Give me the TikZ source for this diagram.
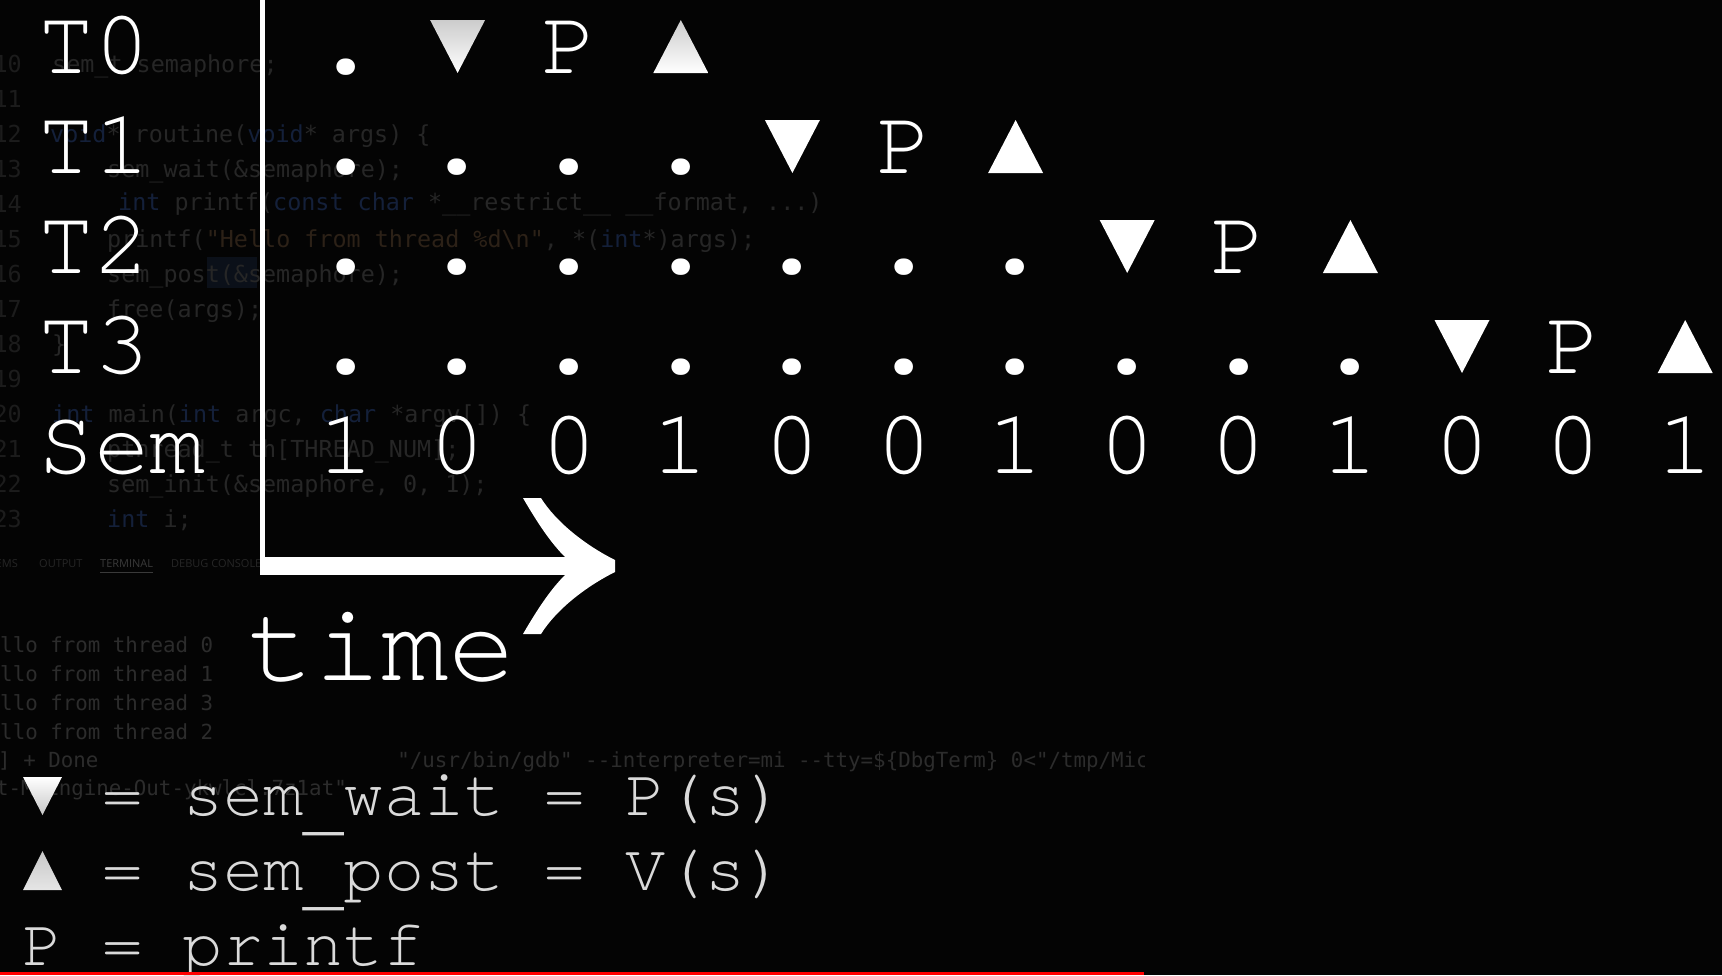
\documentclass[tikz,border=0pt]{standalone}
\usepackage{fontspec}
\newfontfamily\cur{texgyrecursor-regular.otf}
\newfontfamily\codefont{DejaVu Sans Mono}[Ligatures=TeXOff]
\newfontfamily\tabfont{Open Sans}
\definecolor{bg}{HTML}{040404}
\definecolor{leg}{HTML}{DADADA}
\definecolor{ytred}{HTML}{FF0000}
\definecolor{cgray}{HTML}{262626}
\definecolor{cnum}{HTML}{1C1C1C}
\definecolor{ckey}{HTML}{14203A}
\definecolor{cstr}{HTML}{2C2117}
\definecolor{cterm}{HTML}{2C2C2C}
\definecolor{ctab}{HTML}{3A3A3A}
\definecolor{csel}{HTML}{0B1019}
\tikzset{
  cell/.style={font=\cur\fontsize{93}{100}\selectfont, text=white, inner sep=0pt, anchor=base},
  rowlabel/.style={cell, anchor=base west},
  timelabel/.style={font=\cur\fontsize{112}{120}\selectfont, text=white, inner sep=0pt, anchor=base west},
  legtext/.style={font=\cur\fontsize{67}{72}\selectfont, text=leg, inner sep=0pt, anchor=base west},
  axisline/.style={white, line width=5pt},
  shaft/.style={white, line width=18pt},
  codeline/.style={font=\codefont\fontsize{23.4}{26}\selectfont, text=cgray, inner sep=0pt, anchor=base west},
  linenum/.style={font=\codefont\fontsize{23.4}{26}\selectfont, text=cnum, inner sep=0pt, anchor=base east},
  termline/.style={font=\codefont\fontsize{20.8}{24}\selectfont, text=cterm, inner sep=0pt, anchor=base west},
  tablabel/.style={font=\tabfont\fontsize{11}{13}\selectfont, text=cgray, inner sep=0pt, anchor=base west},
}
\newcommand\kw[1]{\textcolor{ckey}{#1}}
\newcommand\st[1]{\textcolor{cstr}{#1}}
\newcommand\usc{\raisebox{-12pt}{\_}}
\begin{document}
\begin{tikzpicture}[x=1pt,y=-1pt]
\fill[bg] (0,0) rectangle (1722,975);
\useasboundingbox (0,0) rectangle (1722,975);

% ---- faint editor background ----
\fill[csel] (207,257) rectangle (257,288);
\foreach \n in {10,...,23}{
  \node[linenum] (ln\n) at (22,{72+35*(\n-10)}) {\n};
}
\node[codeline] (c10) at (52,72)  {sem\_t semaphore;};
\node[codeline] (c12) at (50,142) {\kw{void}* routine(\kw{void}* args) \{};
\node[codeline] (c13) at (107,177) {sem\_wait(\&semaphore);};
\node[codeline] (c14) at (118,210) {\kw{int} printf(\kw{const char} *\_\_restrict\_\_ \_\_format, ...)};
\node[codeline] (c15) at (107,247) {printf(\st{"Hello from thread \%d\textbackslash n"}, *(\kw{int}*)args);};
\node[codeline] (c16) at (107,282) {sem\_post(\&semaphore);};
\node[codeline] (c17) at (107,317) {free(args);};
\node[codeline] (c18) at (52,352) {\}};
\node[codeline] (c20) at (52,422) {\kw{int} main(\kw{int} argc, \kw{char} *argv[]) \{};
\node[codeline] (c21) at (107,457) {pthread\_t th[THREAD\_NUM];};
\node[codeline] (c22) at (107,492) {sem\_init(\&semaphore, 0, 1);};
\node[codeline] (c23) at (107,527) {\kw{int} i;};

\node[tablabel, anchor=base east] (tab1) at (18,567) {PROBLEMS};
\node[tablabel] (tab2) at (39,567) {OUTPUT};
\node[tablabel, text=ctab] (tab3) at (100,567) {TERMINAL};
\node[tablabel] (tab4) at (171,567) {DEBUG CONSOLE};
\draw[ctab, line width=1pt] (tab3.south west) ++(0,5) coordinate (u1) -- (u1 -| tab3.south east);

\begin{scope}
\clip (0,0) rectangle (1144,975);
\node[termline] (h0) at (-25,652) {Hello from thread 0};
\node[termline] (h1) at (-25,681) {Hello from thread 1};
\node[termline] (h2) at (-25,710) {Hello from thread 3};
\node[termline] (h3) at (-25,739) {Hello from thread 2};
\node[termline] (done) at (-27,767) {[1] + Done\hspace{299pt}"/usr/bin/gdb" --interpreter=mi --tty=\$\{DbgTerm\} 0<"/tmp/Microsoft-MIEngine-In};
\node[termline] (eng) at (-4,795) {t-MIEngine-Out-ykwlcl.7z1at"};
\end{scope}

% ---- row labels ----
\node[rowlabel] (lT0) at (38,73) {T0};
\node[rowlabel] (lT1) at (38,173) {T1};
\node[rowlabel] (lT2) at (38,273) {T2};
\node[rowlabel] (lT3) at (38,373) {T3};
\node[rowlabel] (lSem) at (38,473) {Sem};

% ---- grid rows ----
\foreach \r in {0,1,2,3}{
  \pgfmathsetmacro{\base}{73+100*\r}
  \pgfmathtruncatemacro{\nd}{3*\r}
  \foreach \k in {0,...,\nd}{
    \node[cell] (d\r-\k) at ({346+111.6*\k},\base) {\scalebox{1.35}{.}};
  }
  \pgfmathsetmacro{\cw}{346+111.6*(3*\r+1)}
  \pgfmathsetmacro{\cp}{346+111.6*(3*\r+2)}
  \pgfmathsetmacro{\cu}{346+111.6*(3*\r+3)}
  \ifnum\r=0
    \fill[top color=white!80!black, bottom color=white] (\cw-27.5,\base-53) -- (\cw+27.5,\base-53) -- (\cw,\base) -- cycle;
    \fill[top color=white!80!black, bottom color=white] (\cu-27.5,\base) -- (\cu+27.5,\base) -- (\cu,\base-53) -- cycle;
  \else
    \fill[white] (\cw-27.5,\base-53) -- (\cw+27.5,\base-53) -- (\cw,\base) -- cycle;
    \fill[white] (\cu-27.5,\base) -- (\cu+27.5,\base) -- (\cu,\base-53) -- cycle;
  \fi
  \node[cell] (p\r) at (\cp,\base) {P};
}

% ---- semaphore values ----
\foreach \v [count=\i from 0] in {1,0,0,1,0,0,1,0,0,1,0,0,1}{
  \node[cell] (s\i) at ({346+111.6*\i},473) {\v};
}

% ---- time axis ----
\coordinate (ytop) at (262.5,0);
\coordinate (ybot) at (262.5,575);
\coordinate (xstart) at (260,566);
\coordinate (xend) at (590,566);
\draw[axisline] (ytop) -- (ybot);
\draw[shaft] (xstart) -- (xend);
\fill[white] (615,560) .. controls (585,545) and (556,522) .. (541,498)
  -- (523,498) .. controls (537,522) and (550,542) .. (565,557)
  -- (565,575) .. controls (550,590) and (537,610) .. (523,634)
  -- (541,634) .. controls (556,610) and (585,587) .. (615,572) -- cycle;
\node[timelabel] (time) at (247,680) {time};

% ---- legend ----
\fill[top color=white, bottom color=white!78!black] (23,777) -- (62,777) -- (42.5,815) -- cycle;
\fill[top color=white!78!black, bottom color=white!90!black] (42.5,851) -- (62,890) -- (23,890) -- cycle;
\node[legtext] (leg1) at (102.5,815) {= sem\usc wait = P(s)};
\node[legtext] (leg2) at (102.5,890) {= sem\usc post = V(s)};
\node[legtext] (leg3) at (22,965) {P = printf};

% ---- progress bar ----
\fill[ytred] (0,972) rectangle (1144,975);
\end{tikzpicture}
\end{document}
